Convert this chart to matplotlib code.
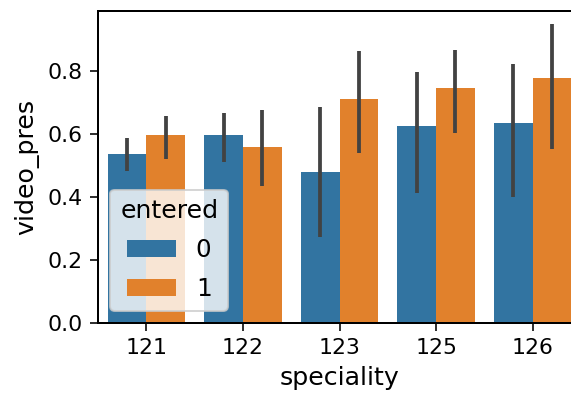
import numpy as np
import matplotlib
matplotlib.use("Agg")
import matplotlib.pyplot as plt

# Données
specialities = ["121", "122", "123", "125", "126"]
hue_levels = ["0", "1"]

mean_0 = [0.536, 0.595, 0.480, 0.626, 0.636]
low_0 = [0.483, 0.510, 0.274, 0.412, 0.401]
high_0 = [0.586, 0.666, 0.685, 0.795, 0.821]

mean_1 = [0.595, 0.560, 0.712, 0.745, 0.778]
low_1 = [0.520, 0.436, 0.538, 0.602, 0.551]
high_1 = [0.658, 0.677, 0.863, 0.867, 0.949]

colors = ["#3274a1", "#e1812c"]

plt.rcParams["xtick.labelsize"] = 11
plt.rcParams["ytick.labelsize"] = 11
plt.rcParams["axes.labelsize"] = 12.6
plt.rcParams["legend.fontsize"] = 12.3
plt.rcParams["legend.title_fontsize"] = 12.6
plt.rcParams["xtick.major.size"] = 4
plt.rcParams["ytick.major.size"] = 4
plt.rcParams["axes.linewidth"] = 1.0

dpi = 144
fig = plt.figure(figsize=(571 / dpi, 396 / dpi), dpi=dpi)
# L'axe dépasse à droite : l'image d'origine est rognée
ax = fig.add_axes([98 / 571, 73 / 396, 483 / 571, 312 / 396])

x = np.arange(len(specialities))
width = 0.4
series = [(mean_0, low_0, high_0), (mean_1, low_1, high_1)]
for i, (means, lows, highs) in enumerate(series):
    pos = x - 0.2 + i * width
    ax.bar(pos, means, width=width, color=colors[i], label=hue_levels[i])
    ax.vlines(pos, lows, highs, color="#424242", linewidth=1.9, zorder=3)

ax.set_xlim(-0.5, len(specialities) - 0.5)
ax.set_ylim(0, 0.99)
ax.set_xticks(x)
ax.set_xticklabels(specialities)
ax.set_yticks([0.0, 0.2, 0.4, 0.6, 0.8])
ax.set_xlabel("speciality", labelpad=4)
ax.set_ylabel("video_pres")
ax.legend(title="entered", loc="lower left", labelspacing=0.6)

fig.savefig("out.png", dpi=dpi)
